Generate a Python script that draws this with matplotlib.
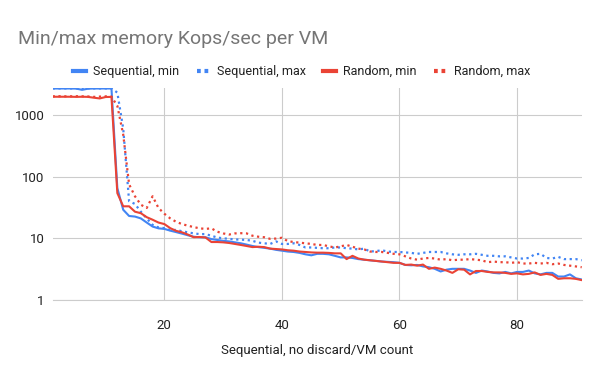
import matplotlib
matplotlib.use('Agg')
import matplotlib.pyplot as plt
import numpy as np

plt.rcParams['font.family'] = ['Roboto', 'DejaVu Sans']

# VM count on the x axis
vm_count = list(range(1, 92))

# Kops/sec
seq_min = [2680, 2680, 2680, 2680, 2670, 2550, 2660, 2680, 2680, 2680, 2680,
           65, 29, 23, 22.5, 21, 18, 15.5, 14.5, 14.2,
           13.3, 12.6, 11.9, 11.2, 10.6, 10.4, 10.4, 9.7, 9.4, 9.1, 8.9, 8.6, 8.3, 7.9, 7.5,
           7.2, 7.0, 6.8, 6.5, 6.3, 6.1, 6.0, 5.8, 5.5, 5.3, 5.6, 5.6, 5.5, 5.2, 4.9, 4.9,
           4.8, 4.6, 4.5, 4.4, 4.3,
           4.2, 4.15, 4.1, 4.0, 3.7, 3.65, 3.7, 3.5, 3.4, 3.2, 2.9, 3.1, 3.2, 3.2, 3.2, 3.0,
           2.75, 3.0, 2.9, 2.75, 2.7, 2.85, 2.7, 2.85, 2.85, 3.0, 2.7, 2.6, 2.75, 2.75, 2.4,
           2.4, 2.6, 2.25, 2.15]
seq_max = [2690] * 11 + \
          [2300, 600, 40, 36, 27, 21, 16.5, 15, 14.6,
           13.5, 13.7, 13.0, 12.5, 12.0, 11.7, 11.7, 11.0, 10.3, 10.0, 9.8, 9.6, 9.5, 9.4, 9.1,
           8.5, 8.3, 8.1, 8.9, 8.1, 8.1, 8.3, 7.8, 7.1, 7.1, 7.0, 6.9, 6.9, 7.1, 7.1, 6.9,
           6.8, 6.6, 6.8, 6.1, 6.2,
           6.4, 6.1, 6.0, 6.0, 5.9, 5.8, 5.6, 5.8, 6.0, 6.0, 6.0, 5.7, 5.5, 5.4, 5.5, 5.5,
           5.6, 5.4, 5.2, 5.2, 5.1, 5.1, 4.9, 4.7, 4.7, 4.8, 5.5, 5.6, 4.8, 4.7, 5.0,
           4.6, 4.6, 4.6, 4.4]
rand_min = [1970, 1970, 1970, 1970, 1960, 1970, 1960, 1900, 1850, 1950, 1960,
            54, 33, 33, 27, 25.5, 22, 20, 18, 17,
            14.6, 13.2, 12.5, 11.5, 10.4, 10.5, 10.3, 8.7, 8.7, 8.6, 8.4, 8.1, 7.8, 7.5, 7.2,
            7.3, 7.2, 6.8, 6.7, 6.6, 6.4, 6.3, 6.1, 6.0, 5.9, 5.85, 5.85, 5.8, 5.7, 5.7, 4.6,
            5.2, 4.7, 4.5, 4.4, 4.3,
            4.2, 4.1, 4.0, 4.0, 3.7, 3.75, 3.6, 3.75, 3.2, 3.35, 3.2, 3.0, 2.75, 3.15, 3.1,
            2.6, 2.95, 2.95, 2.85, 2.8, 2.8, 2.75, 2.65, 2.7, 2.6, 2.65, 2.8, 2.55, 2.65,
            2.55, 2.2, 2.25, 2.25, 2.2, 2.1]
rand_max = [2000, 2010, 2000, 2000, 2010, 2000, 1990, 1960, 1980, 2000, 1980,
            1400, 480, 75, 48, 35, 31, 48, 31, 25,
            21, 18.5, 17, 16, 15.2, 14.5, 14.2, 14.5, 12.8, 12.0, 11.5, 12.0, 12.1, 12.0, 11.0,
            10.6, 10.4, 9.8, 9.9, 10.2, 9.0, 8.7, 8.5, 8.3, 8.1, 7.8, 7.8, 7.4, 7.1, 7.4, 7.8,
            7.3, 6.8, 6.6, 6.1, 6.0,
            6.0, 5.8, 5.6, 5.5, 5.1, 4.7, 4.5, 4.7, 4.8, 4.7, 4.5, 4.6, 4.4, 4.5, 4.5, 4.6,
            4.5, 4.4, 4.1, 4.2, 4.1, 4.1, 4.0, 4.1, 3.9, 3.9, 4.0, 3.9, 4.0, 3.8, 3.9, 3.7,
            3.6, 3.5, 3.4]

y_ticks = [1, 10, 100, 1000]
x_ticks = [20, 40, 60, 80]

blue = '#4285F4'
red = '#EA4335'

fig = plt.figure(figsize=(6, 3.71), dpi=100)
ax = fig.add_axes([0.0878, 0.1914, 0.8817, 0.5706])

dot = (0, (1, 1.6))
ax.plot(vm_count, seq_min, color=blue, lw=1.5, label='Sequential, min')
ax.plot(vm_count, seq_max, color=blue, lw=1.6, ls=dot, label='Sequential, max')
ax.plot(vm_count, rand_min, color=red, lw=1.5, label='Random, min')
ax.plot(vm_count, rand_max, color=red, lw=1.6, ls=dot, label='Random, max')

ax.set_yscale('log')
ax.set_ylim(1, 2700)
ax.set_xlim(1, 91)
ax.set_yticks(y_ticks)
ax.set_yticklabels([str(v) for v in y_ticks])
ax.minorticks_off()
ax.set_xticks(x_ticks)
ax.grid(True, color='#cccccc', lw=0.8)
ax.set_axisbelow(True)
for s in ['top', 'right', 'left']:
    ax.spines[s].set_visible(False)
ax.spines['bottom'].set_color('#cccccc')
ax.spines['bottom'].set_linewidth(0.8)
ax.tick_params(length=0, labelsize=9.5, colors='#222222', pad=6)
ax.tick_params(axis='x', pad=14)
ax.set_xlabel('Sequential, no discard/VM count', fontsize=9.5, color='#222222', labelpad=8)

fig.text(0.03, 0.881, 'Min/max memory Kops/sec per VM', fontsize=14, color='#757575',
         va='baseline', ha='left')

leg = fig.legend(loc='center', bbox_to_anchor=(0.503, 0.807), ncol=4, frameon=False,
                 fontsize=9, handlelength=1.0, handletextpad=0.6, columnspacing=1.4,
                 labelcolor='#222222')
for h in leg.get_lines():
    h.set_linewidth(3)
    if h.get_linestyle() != '-':
        h.set_linestyle((0, (0.9, 0.9)))

plt.savefig('out.png', dpi=100)
